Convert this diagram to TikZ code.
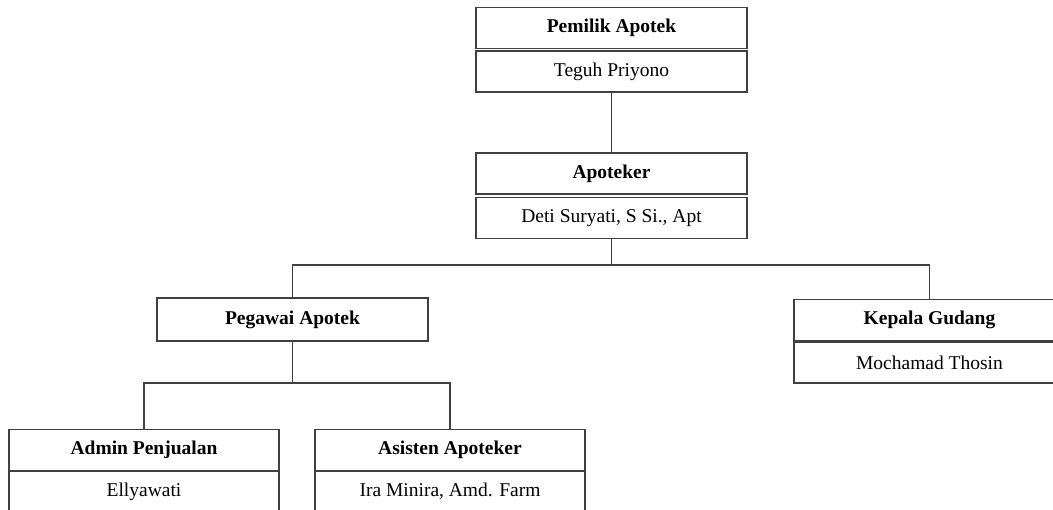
\documentclass[tikz,border=0pt]{standalone}
\usepackage{fontspec}
\setmainfont{Liberation Serif}
\begin{document}
\begin{tikzpicture}[x=1pt,y=-1pt,
  box/.style={draw=black!75,line width=1.4pt,fill=white,minimum width=271pt,minimum height=41pt,inner sep=0pt,font=\fontsize{19.5}{23}\selectfont},
  title/.style={box,font=\fontsize{19.5}{23}\selectfont\bfseries},
  conn/.style={draw=black!75,line width=1.6pt}]
\useasboundingbox (0,0) rectangle (1053,510);
\clip (0,0) rectangle (1053,510);
% Pemilik
\node[title] (pt) at (611.5,28) {Pemilik Apotek};
\node[box] (ps) at (611.5,71.5) {Teguh Priyono};
% Apoteker
\node[title] (at) at (611.5,173.5) {Apoteker};
\node[box] (as) at (611.5,218) {Deti Suryati, S Si., Apt};
% Pegawai
\node[title,minimum height=43pt] (pg) at (292.5,319.5) {Pegawai Apotek};
% Kepala Gudang
\node[title] (kt) at (929.5,320) {Kepala Gudang};
\node[box] (ks) at (929.5,362.5) {Mochamad Thosin};
% Admin
\node[title,minimum width=270pt] (adt) at (144,450) {Admin Penjualan};
\node[box,minimum width=270pt] (ads) at (144,491.5) {Ellyawati};
% Asisten
\node[title,minimum width=270pt] (ast) at (450,450) {Asisten Apoteker};
\node[box,minimum width=270pt] (ass) at (450,491.5) {Ira Minira, Amd. Farm};
% junctions
\coordinate (j1) at (as.south |- 0,265);
\coordinate (j2) at (pg.south |- 0,383);
% connectors
\draw[conn] (ps.south) -- (at.north);
\draw[conn] (as.south) -- (j1);
\draw[conn] (pg.north) |- (j1) -| (kt.north);
\draw[conn] (pg.south) -- (j2);
\draw[conn] (adt.north) |- (j2) -| (ast.north);
\end{tikzpicture}
\end{document}
